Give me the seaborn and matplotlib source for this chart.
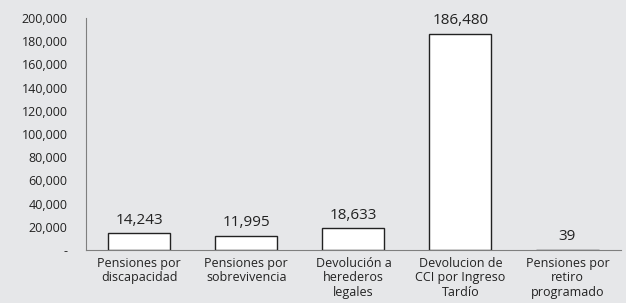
import numpy as np
import pandas as pd
import seaborn as sns
import matplotlib.pyplot as plt
from matplotlib.ticker import FuncFormatter

categorias = ["Pensiones por\ndiscapacidad", "Pensiones por\nsobrevivencia",
              "Devolución a\nherederos\nlegales", "Devolucion de\nCCI por Ingreso\nTardío",
              "Pensiones por\nretiro\nprogramado"]
valores = [14243, 11995, 18633, 186480, 39]

df = pd.DataFrame({"cat": categorias, "val": valores})

sns.set_style("white")
plt.rcParams["font.family"] = ["Open Sans", "DejaVu Sans"]
bg = "#e6e7e9"

fig = plt.figure(figsize=(6.26, 3.03), dpi=100, facecolor=bg)
ax = fig.add_axes([0.137, 0.175, 0.855, 0.766])
ax.set_facecolor(bg)

sns.barplot(data=df, x="cat", y="val", color="white", edgecolor="#222222",
            linewidth=1.0, width=0.58, ax=ax)

for i, v in enumerate(valores):
    ax.text(i, v + 5000, f"{v:,}", ha="center", va="bottom", fontsize=11, color="#222222")

ax.set_ylim(0, 200000)
ax.set_yticks(np.arange(0, 200001, 20000))
ax.yaxis.set_major_formatter(FuncFormatter(lambda x, p: "-" if x == 0 else f"{int(x):,}"))
ax.tick_params(axis="y", length=0, labelsize=9, colors="#222222", pad=13)
ax.tick_params(axis="x", length=0, labelsize=9, colors="#222222", pad=5)
ax.set_xlabel("")
ax.set_ylabel("")
for s in ["top", "right"]:
    ax.spines[s].set_visible(False)
ax.spines["left"].set_color("#7f7f7f")
ax.spines["bottom"].set_color("#7f7f7f")
ax.set_xlim(-0.5, 4.5)
for lbl in ax.get_xticklabels():
    lbl.set_linespacing(1.15)

fig.savefig("out.png", dpi=100, facecolor=bg)
